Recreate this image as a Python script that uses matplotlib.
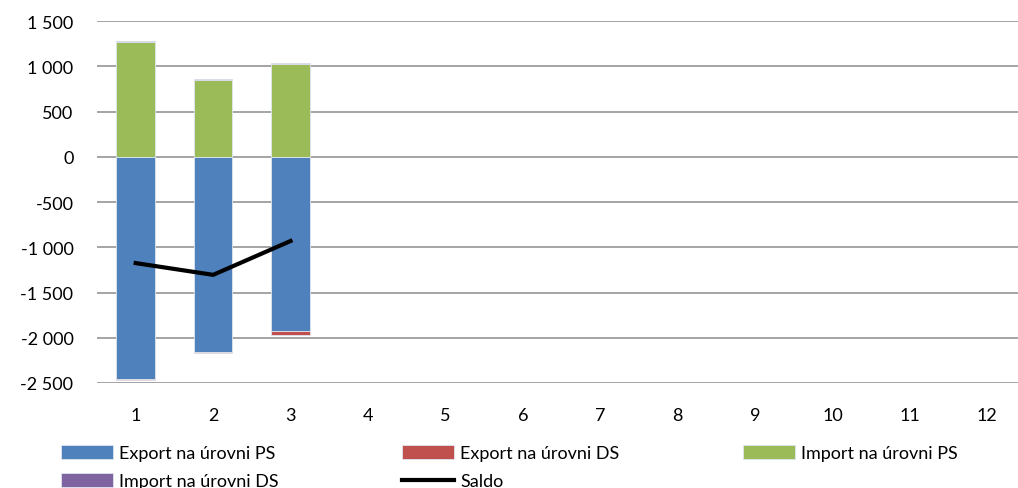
import matplotlib.pyplot as plt
from matplotlib.ticker import FuncFormatter

# data
months = [1, 2, 3, 4, 5, 6, 7, 8, 9, 10, 11, 12]
data_months = [1, 2, 3]
export_ps = [-2455, -2160, -1925]
export_ds = [-8, -5, -42]
import_ps = [1265, 850, 1022]
import_ds = [15, 6, 12]
saldo = [-1175, -1305, -931]

plt.rcParams['font.family'] = ['Lato', 'DejaVu Sans']

fig = plt.figure(figsize=(10.18, 4.89), dpi=100)
ax = fig.add_axes([97 / 1018, 105 / 489, 929 / 1018, 362 / 489])

c_blue = '#4F81BD'
c_red = '#C0504D'
c_green = '#9BBB59'
c_purple = '#8064A2'
width = 0.5
edge = dict(edgecolor='#dfe6ef', linewidth=0.6)

# negative stack (exports)
b1 = ax.bar(data_months, export_ps, width, color=c_blue, zorder=3, **edge)
b2 = ax.bar(data_months, export_ds, width, bottom=export_ps, color=c_red, zorder=3, **edge)
# positive stack (imports)
b3 = ax.bar(data_months, import_ps, width, color=c_green, zorder=3, **edge)
b4 = ax.bar(data_months, import_ds, width, bottom=import_ps, color=c_purple, zorder=3, **edge)
ln, = ax.plot(data_months, saldo, color='black', linewidth=3, zorder=4)

ax.set_xlim(0.5, 12.5)
ax.set_ylim(-2500, 1500)
ax.set_xticks(months)
ax.set_yticks(range(-2500, 1501, 500))
ax.yaxis.set_major_formatter(FuncFormatter(lambda v, p: f"{v:,.0f}".replace(",", " ")))
ax.tick_params(axis='both', length=0, labelsize=13)
ax.tick_params(axis='y', pad=17)
ax.tick_params(axis='x', pad=17)
ax.grid(axis='y', color='#8c8c8c', linewidth=1.1, zorder=0)
ax.set_axisbelow(True)
for s in ax.spines.values():
    s.set_visible(False)

# legend split into three columns like the original
leg_kw = dict(loc='upper left', frameon=False, borderpad=0, borderaxespad=0,
              fontsize=13, handlelength=2.9, handleheight=0.78, handletextpad=0.33,
              labelspacing=0.68)
fig.legend([b1, b4], ['Export na úrovni PS', 'Import na úrovni DS'],
           bbox_to_anchor=(61 / 1018, 1 - 446 / 489), **leg_kw)
fig.legend([b2, ln], ['Export na úrovni DS', 'Saldo'],
           bbox_to_anchor=(402 / 1018, 1 - 446 / 489), **leg_kw)
fig.legend([b3], ['Import na úrovni PS'],
           bbox_to_anchor=(743 / 1018, 1 - 446 / 489), **leg_kw)

fig.savefig('out.png', dpi=100)
